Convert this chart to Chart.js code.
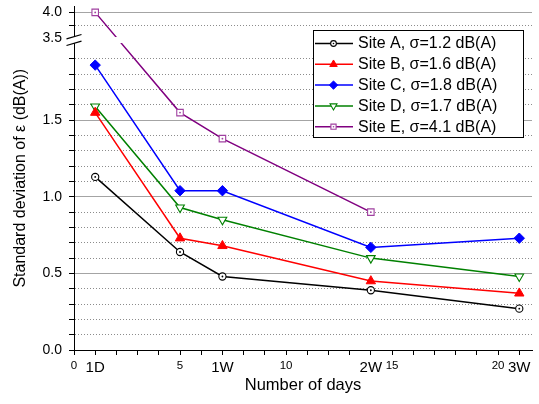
<!DOCTYPE html>
<html><head><meta charset="utf-8">
<script src="https://cdn.jsdelivr.net/npm/chart.js@4.4.0/dist/chart.umd.min.js"></script>
<style>html,body{margin:0;padding:0;background:#fff;}canvas{display:block;}</style>
</head><body>
<canvas id="c" width="539" height="404"></canvas>
<script>
// ---- data ----
const days = [1, 5, 7, 14, 21];
const seriesNames = ['Site A, σ=1.2 dB(A)', 'Site B, σ=1.6 dB(A)', 'Site C, σ=1.8 dB(A)', 'Site D, σ=1.7 dB(A)', 'Site E, σ=4.1 dB(A)'];
const siteA = [1.13, 0.64, 0.48, 0.39, 0.27];
const siteB = [1.55, 0.73, 0.68, 0.45, 0.37];
const siteC = [1.86, 1.04, 1.04, 0.67, 0.73];
const siteD = [1.59, 0.93, 0.85, 0.60, 0.48];
const siteE = [4.00, 1.55, 1.38, 0.90, null];

// ---- tick labels ----
const yGridValues = [0, 0.1, 0.2, 0.3, 0.4, 0.5, 0.6, 0.7, 0.8, 0.9, 1.0, 1.1, 1.2, 1.3, 1.4, 1.5, 1.6, 1.7, 1.8, 1.9, 3.5, 3.75, 4.0];
const yLabelValues = [0, 0.5, 1.0, 1.5, 3.5, 4.0];
const yMajorValues = [0, 0.5, 1.0, 1.5, 4.0];
const xTickValues = [0,1,2,3,4,5,6,7,8,9,10,11,12,13,14,15,16,17,18,19,20,21];
const xNumberTicks = [0, 5, 10, 15, 20];
const xPeriodTicks = [1, 7, 14, 21];
const xPeriodLabels = ['1D', '1W', '2W', '3W'];

// ---- broken axis geometry ----
const LOW_MAX = 2.0, LOW_FRAC = 0.8915;
const UP_MIN = 3.5, UP_MAX = 4.115, UP_START = 0.907;
const BREAK_VALUE = 3.5;

class BrokenLinearScale extends Chart.LinearScale {
  toDecimal(v) {
    if (v <= LOW_MAX) return v / LOW_MAX * LOW_FRAC;
    if (v >= UP_MIN) return UP_START + (v - UP_MIN) / (UP_MAX - UP_MIN) * (1 - UP_START);
    return LOW_FRAC + (v - LOW_MAX) / (UP_MIN - LOW_MAX) * (UP_START - LOW_FRAC);
  }
  getPixelForValue(value) {
    if (value === null || value === undefined || isNaN(value)) return NaN;
    return this.getPixelForDecimal(this.toDecimal(value));
  }
  getValueForPixel(pixel) {
    const d = this.getDecimalForPixel(pixel);
    if (d <= LOW_FRAC) return d / LOW_FRAC * LOW_MAX;
    return UP_MIN + (d - UP_START) / (1 - UP_START) * (UP_MAX - UP_MIN);
  }
}
BrokenLinearScale.id = 'brokenLinear';
BrokenLinearScale.defaults = Chart.LinearScale.defaults;
Chart.register(BrokenLinearScale);

Chart.defaults.font.family = "'Liberation Sans', Arial, sans-serif";
Chart.defaults.color = '#000';

const near = (a, b) => Math.abs(a - b) < 1e-6;
const inList = (v, arr) => arr.some(a => near(a, v));

function pts(vals) {
  return days.map((d, i) => ({ x: d, y: vals[i] })).filter(p => p.y !== null);
}

const styles = [
  { color: '#000000', pointStyle: 'circle', radius: 3.6, bg: '#ffffff', pbc: '#000000', bw: 1.1, rot: 0, dot: '#000000' },
  { color: '#ff0000', pointStyle: 'triangle', radius: 5.4, bg: '#ff0000', pbc: '#ff0000', bw: 1, rot: 0 },
  { color: '#0000ff', pointStyle: 'rectRot', radius: 5.2, bg: '#0000ff', pbc: '#0000ff', bw: 1, rot: 0 },
  { color: '#008000', pointStyle: 'triangle', radius: 5, bg: '#ffffff', pbc: '#008000', bw: 1.1, rot: 180 },
  { color: '#800080', pointStyle: 'rect', radius: 4.6, bg: '#ffffff', pbc: '#a040a0', bw: 1.1, rot: 0, dot: '#a040a0' }
];
const allSeries = [siteA, siteB, siteC, siteD, siteE];

const datasets = allSeries.map((vals, i) => ({
  label: seriesNames[i],
  data: pts(vals),
  borderColor: styles[i].color,
  borderWidth: 1.5,
  tension: 0,
  pointStyle: styles[i].pointStyle,
  pointRadius: styles[i].radius,
  pointRotation: styles[i].rot,
  pointBackgroundColor: styles[i].bg,
  pointBorderColor: styles[i].pbc,
  pointBorderWidth: styles[i].bw,
  centerDot: styles[i].dot || null
}));

const breakPlugin = {
  id: 'breakMarks',
  afterDatasetsDraw(chart) {
    const ctx = chart.ctx, ca = chart.chartArea, ys = chart.scales.y;
    ctx.save();
    chart.data.datasets.forEach((ds, i) => {
      if (!ds.centerDot) return;
      chart.getDatasetMeta(i).data.forEach(el => {
        ctx.fillStyle = ds.centerDot;
        ctx.beginPath(); ctx.arc(el.x, el.y, 0.9, 0, Math.PI * 2); ctx.fill();
      });
    });
    const yc = (ys.getPixelForValue(LOW_MAX) + ys.getPixelForValue(UP_MIN)) / 2 - 1;
    const x0 = ca.left;
    ctx.fillStyle = '#fff';
    ctx.fillRect(x0 + 1, yc - 3, ca.right - x0, 6);
    const hw = 7.5, sl = 2.2, gap = 3.3;
    ctx.beginPath();
    ctx.moveTo(x0 - hw, yc - gap + sl);
    ctx.lineTo(x0 + hw, yc - gap - sl);
    ctx.lineTo(x0 + hw, yc + gap - sl);
    ctx.lineTo(x0 - hw, yc + gap + sl);
    ctx.closePath(); ctx.fill();
    ctx.strokeStyle = '#000'; ctx.lineWidth = 1.2;
    ctx.beginPath();
    ctx.moveTo(x0 - hw, yc - gap + sl); ctx.lineTo(x0 + hw, yc - gap - sl);
    ctx.moveTo(x0 - hw, yc + gap + sl); ctx.lineTo(x0 + hw, yc + gap - sl);
    ctx.stroke();
    ctx.restore();
  }
};

const legendPlugin = {
  id: 'boxLegend',
  afterDraw(chart) {
    const ctx = chart.ctx;
    const L = 313, T = 30, R = 524, B = 138;
    ctx.save();
    ctx.fillStyle = '#fff'; ctx.fillRect(L, T, R - L, B - T);
    ctx.strokeStyle = '#000'; ctx.lineWidth = 1;
    ctx.strokeRect(L + 0.5, T + 0.5, R - L - 1, B - T - 1);
    ctx.font = "16px 'Liberation Sans', Arial, sans-serif";
    ctx.textBaseline = 'middle'; ctx.textAlign = 'left';
    chart.data.datasets.forEach((ds, i) => {
      const y = 43.5 + i * 20.8;
      ctx.strokeStyle = ds.borderColor; ctx.lineWidth = 1.5;
      ctx.beginPath(); ctx.moveTo(315, y); ctx.lineTo(353, y); ctx.stroke();
      ctx.fillStyle = ds.pointBackgroundColor; ctx.strokeStyle = ds.pointBorderColor;
      ctx.lineWidth = ds.pointBorderWidth;
      Chart.helpers.drawPoint(ctx, { pointStyle: ds.pointStyle, radius: ds.pointRadius * 0.8, rotation: ds.pointRotation, borderWidth: ds.pointBorderWidth }, 333.5, y);
      if (ds.centerDot) {
        ctx.fillStyle = ds.centerDot; ctx.beginPath(); ctx.arc(333.5, y, 0.8, 0, Math.PI * 2); ctx.fill();
      }
      ctx.fillStyle = '#000';
      ctx.fillText(ds.label, 358, y + 0.5);
    });
    ctx.restore();
  }
};

new Chart(document.getElementById('c'), {
  type: 'line',
  data: { datasets },
  plugins: [breakPlugin, legendPlugin],
  options: {
    responsive: false,
    animation: false,
    devicePixelRatio: 1,
    layout: { padding: { top: 6, right: 7, left: 0, bottom: 0 } },
    plugins: { legend: { display: false }, tooltip: { enabled: false } },
    scales: {
      x: {
        type: 'linear', min: 0, max: 21.6,
        afterBuildTicks: s => { s.ticks = xTickValues.map(v => ({ value: v })); },
        afterFit: s => { s.height = 54; s.paddingLeft = 0; s.paddingRight = 0; },
        ticks: {
          autoSkip: false, maxRotation: 0, minRotation: 0, padding: 4, color: '#000',
          callback: v => {
            const i = xPeriodTicks.indexOf(v);
            if (i >= 0) return xPeriodLabels[i];
            return xNumberTicks.includes(v) ? String(v) : '';
          },
          font: c => ({ size: (c.tick && xPeriodTicks.includes(c.tick.value)) ? 15 : 11.5 })
        },
        grid: { drawOnChartArea: false, drawTicks: true, tickLength: 5, tickColor: '#000', tickWidth: 1 },
        border: { display: true, color: '#000', width: 1 },
        title: { display: true, text: 'Number of days', font: { size: 16.5 }, color: '#000', padding: { top: 0, bottom: 9 } }
      },
      y: {
        type: 'brokenLinear', min: 0, max: UP_MAX,
        afterBuildTicks: s => { s.ticks = yGridValues.map(v => ({ value: v })); },
        afterFit: s => { s.width = 74; s.paddingTop = 0; s.paddingBottom = 0; },
        ticks: {
          autoSkip: false, padding: 7, color: '#000', font: { size: 14 },
          callback: v => inList(v, yLabelValues) ? v.toFixed(1) : ''
        },
        grid: {
          drawTicks: true, tickLength: 5, tickWidth: 1, lineWidth: 1,
          color: c => {
            if (!c.tick) return 'rgba(0,0,0,0)';
            const v = c.tick.value;
            if (near(v, BREAK_VALUE)) return 'rgba(0,0,0,0)';
            return inList(v, yMajorValues) ? '#a4a4a4' : '#8c8c8c';
          },
          tickColor: c => (c.tick && near(c.tick.value, BREAK_VALUE)) ? 'rgba(0,0,0,0)' : '#000',
          tickBorderDash: []
        },
        border: {
          display: true, color: '#000', width: 1,
          dash: c => (c.tick && !inList(c.tick.value, yMajorValues)) ? [1, 2] : []
        },
        title: { display: true, text: 'Standard deviation of ε (dB(A))', font: { size: 16 }, color: '#000', padding: { top: 10.5, bottom: 0 } }
      }
    }
  }
});
</script>
</body></html>
